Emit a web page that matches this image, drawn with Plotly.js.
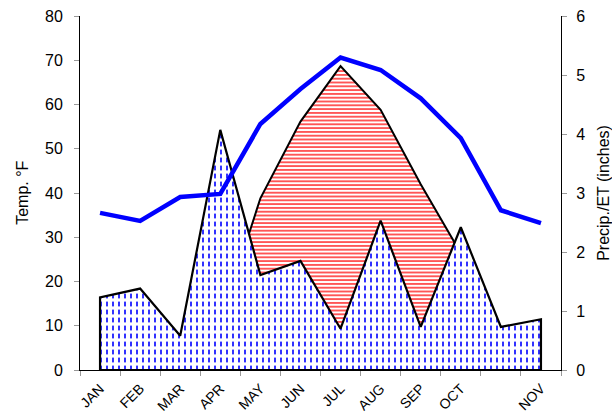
<!DOCTYPE html>
<html>
<head>
<meta charset="utf-8">
<script src="https://cdn.plot.ly/plotly-3.0.1.min.js"></script>
<style>html,body{margin:0;padding:0;background:#fff;}#chart{width:612px;height:414px;}</style>
</head>
<body>
<div id="chart"></div>
<script>
// Month tick labels as shown in the reference (11th label blank)
const monthLabels = ["JAN","FEB","MAR","APR","MAY","JUN","JUL","AUG","SEP","OCT","","NOV"];
// Temperature (°F), left axis
const tempF = [35.5, 33.7, 39.1, 39.8, 55.6, 63.5, 70.6, 67.8, 61.4, 52.4, 36.1, 33.2];
// Precipitation (inches), right axis
const precipIn = [1.23, 1.38, 0.58, 4.07, 1.61, 1.85, 0.70, 2.53, 0.73, 2.42, 0.73, 0.86];
// Evapotranspiration (inches), right axis
const etIn = [0.10, 0.20, 0.35, 0.80, 2.91, 4.21, 5.15, 4.41, 3.15, 1.98, 0.50, 0.20];
// Axis titles
const leftTitle = "Temp. °F";
const rightTitle = "Precip./ET (inches)";

const idx = monthLabels.map((_, i) => i);
const n = idx.length;

// closed polygons built from the data arrays (down to the baseline at both ends)
const polyX = [idx[0]].concat(idx, [idx[n-1], idx[0]]);
const precipPolyY = [0].concat(precipIn, [0, 0]);
const etPolyY = [0].concat(etIn, [0, 0]);

const font = "Liberation Sans, Arial, sans-serif";

const traces = [
  { // ET area (red wavy-like pattern)
    x: polyX, y: etPolyY, type: "scatter", mode: "lines", fill: "toself",
    fillcolor: "#ffffff",
    fillpattern: {shape: "-", fgcolor: "#ff2a2a", bgcolor: "#ffffff", size: 3.8, solidity: 0.4},
    line: {color: "#000000", width: 2}, hoverinfo: "skip", yaxis: "y", xaxis: "x"
  },
  { // precip area fill (blue vertical dashes)
    x: polyX, y: precipPolyY, type: "scatter", mode: "none", fill: "toself",
    fillcolor: "#ffffff",
    fillpattern: {shape: "|", fgcolor: "#1a1aff", bgcolor: "#ffffff", size: 6, solidity: 0.3},
    hoverinfo: "skip", yaxis: "y", xaxis: "x"
  },
  { // white cuts turning the blue lines into dashes
    x: polyX, y: precipPolyY, type: "scatter", mode: "none", fill: "toself",
    fillcolor: "rgba(0,0,0,0)",
    fillpattern: {shape: "-", fgcolor: "#ffffff", bgcolor: "rgba(0,0,0,0)", size: 8, solidity: 0.4},
    hoverinfo: "skip", yaxis: "y", xaxis: "x"
  },
  { // precip outline
    x: polyX, y: precipPolyY, type: "scatter", mode: "lines",
    line: {color: "#000000", width: 2.2}, hoverinfo: "skip", yaxis: "y", xaxis: "x"
  },
  { // temperature line
    x: idx, y: tempF, type: "scatter", mode: "lines",
    line: {color: "#0000ff", width: 4.5}, yaxis: "y2", xaxis: "x"
  }
];

const layout = {
  width: 612, height: 414,
  margin: {l: 80, r: 51, t: 16, b: 44},
  paper_bgcolor: "#ffffff", plot_bgcolor: "#ffffff",
  showlegend: false,
  font: {family: font, color: "#000000", size: 15},
  xaxis: {
    range: [-0.5, 11.5], tickmode: "array", tickvals: idx, ticktext: monthLabels,
    tickangle: -45, ticks: "", tickfont: {size: 14, family: font},
    ticklabelstandoff: 4,
    showgrid: false, zeroline: false, showline: true, linecolor: "#000000", linewidth: 1,
    minor: {tickmode: "linear", tick0: -0.5, dtick: 1, ticks: "outside", ticklen: 5, tickcolor: "#999999", tickwidth: 1, showgrid: false}
  },
  yaxis: {
    side: "right", range: [0, 6], dtick: 1, tick0: 0,
    ticks: "outside", ticklen: 5, tickcolor: "#999999",
    ticklabelstandoff: 6,
    showgrid: false, zeroline: false, showline: true, linecolor: "#000000", linewidth: 1,
    tickfont: {size: 16, family: font}
  },
  yaxis2: {
    overlaying: "y", side: "left", range: [0, 80], dtick: 10, tick0: 0,
    ticks: "outside", ticklen: 5, tickcolor: "#999999",
    ticklabelstandoff: 8,
    showgrid: false, zeroline: false, showline: true, linecolor: "#000000", linewidth: 1,
    tickfont: {size: 16, family: font}
  },
  annotations: [
    {text: leftTitle, xref: "paper", yref: "paper", x: -0.121, y: 0.5,
     xanchor: "center", yanchor: "middle", textangle: -90, showarrow: false,
     font: {size: 16, family: font, color: "#000000"}},
    {text: rightTitle, xref: "paper", yref: "paper", x: 1.087, y: 0.5,
     xanchor: "center", yanchor: "middle", textangle: -90, showarrow: false,
     font: {size: 16, family: font, color: "#000000"}}
  ]
};

Plotly.newPlot("chart", traces, layout, {displayModeBar: false, staticPlot: true});
</script>
</body>
</html>
